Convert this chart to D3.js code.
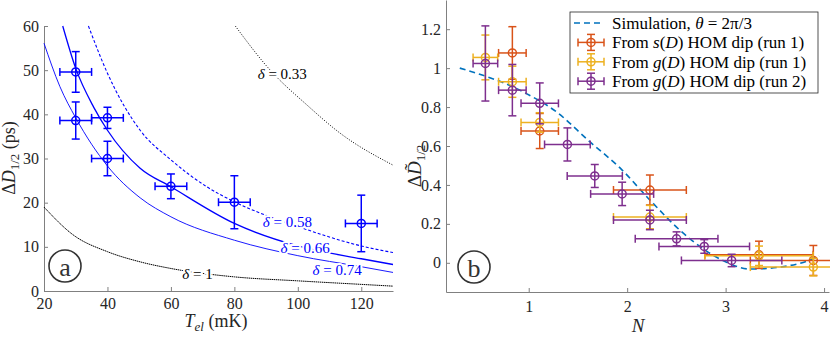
<!DOCTYPE html>
<html>
<head>
<meta charset="utf-8">
<script src="https://cdn.jsdelivr.net/npm/d3@7"></script>
<style>
  body { margin: 0; background: #fff; }
</style>
</head>
<body>
<svg id="chart" width="830" height="337"></svg>
<script>
// ---- panel (a): contour curves of delta
const tempDelta033 = [80.3, 91.3, 102.9, 113.4, 130];
const widthDelta033 = [60, 50, 42.1, 35.7, 28.5];
const tempDelta058 = [34, 40, 50.3, 60, 71.3, 80, 100, 120, 130];
const widthDelta058 = [60, 49.3, 36.4, 29.7, 23.6, 20.2, 14.6, 10.2, 8.7];
const tempDelta066 = [25.9, 30, 35.6, 40, 50.3, 60, 80, 100, 120, 130];
const widthDelta066 = [60, 50.4, 41.7, 36.4, 27.8, 23.6, 15.3, 10.2, 7.3, 6.0];
const tempDelta074 = [20, 25, 30, 40, 50.3, 60, 80, 100, 120, 130];
const widthDelta074 = [56.1, 46.3, 39.2, 28.3, 21.1, 16.8, 11.5, 8.0, 5.5, 4.2];
const tempDelta1 = [20, 29.2, 40, 50.3, 60, 80, 100, 120, 130];
const widthDelta1 = [19, 12.7, 8.9, 6.6, 5.1, 3.2, 2.3, 1.5, 1.1];

// measured points, panel (a)
const measTemp = [30, 30, 40, 40, 60, 80, 120];
const measWidth = [49.6, 38.6, 39.2, 30.0, 23.7, 20.1, 15.3];
const measWidthErr = [4.6, 4.2, 2.4, 3.9, 2.8, 6.0, 6.4];
const measTempErr = [5, 5, 5, 5, 5, 5, 5];

const ticksTemp = [20, 40, 60, 80, 100, 120];
const ticksWidth = [0, 10, 20, 30, 40, 50, 60];

// ---- panel (b)
const simN = [0.3, 0.94, 1.28, 1.62, 1.93, 2.23, 2.57, 2.96, 3.25, 3.55, 3.86, 3.95];
const simWidth = [1.0, 0.879, 0.776, 0.622, 0.486, 0.323, 0.152, 0.015, -0.032, -0.022, 0.015, 0.035];

const sRun1N = [0.834, 1.112, 2.231, 3.339, 3.891];
const sRun1W = [1.078, 0.677, 0.374, 0.041, 0.012];
const sRun1WErr = [0.135, 0.09, 0.077, 0.07, 0.077];
const sRun1NErr = [0.14, 0.19, 0.37, 0.55, 0.64];

const gRun1N = [0.56, 0.834, 1.112, 2.231, 3.339, 3.891];
const gRun1W = [1.055, 0.93, 0.721, 0.235, 0.036, -0.022];
const gRun1WErr = [0.115, 0.08, 0.05, 0.06, 0.05, 0.045];
const gRun1NErr = [0.125, 0.14, 0.19, 0.37, 0.55, 0.64];

const gRun2N = [0.56, 0.834, 1.112, 1.393, 1.671, 1.949, 2.231, 2.502, 2.783, 3.061];
const gRun2W = [1.024, 0.887, 0.819, 0.608, 0.446, 0.354, 0.22, 0.123, 0.084, 0.012];
const gRun2WErr = [0.193, 0.132, 0.105, 0.085, 0.059, 0.06, 0.05, 0.036, 0.035, 0.032];
const gRun2NErr = [0.125, 0.14, 0.19, 0.232, 0.28, 0.32, 0.37, 0.42, 0.46, 0.51];

const ticksN = [1, 2, 3, 4];
const ticksNormWidth = [0, 0.2, 0.4, 0.6, 0.8, 1, 1.2];

const FONT = '"Liberation Serif", "DejaVu Serif", "Noto Serif", "Times New Roman", serif';
const svg = d3.select('#chart').style('font-family', FONT);
const axisGray = '#808080';
const textDark = '#262626';

// scales
const xA = d3.scaleLinear().domain([20, 130]).range([44, 393]);
const yA = d3.scaleLinear().domain([0, 60]).range([291, 26]);
const xB = d3.scaleLinear().domain([0.16, 4.05]).range([446, 829]);
const yB = d3.scaleLinear().domain([-0.15, 1.35]).range([292, 0]);

function styleAxis(g) {
  g.attr('font-family', null).style('font-family', FONT);
  g.select('.domain').attr('stroke', axisGray).attr('stroke-width', 1);
  g.selectAll('.tick line').attr('stroke', axisGray);
  g.selectAll('.tick text').attr('fill', textDark).attr('font-size', 16)
    .style('font-family', FONT);
}

// ---------- panel (a) ----------
svg.append('g')
  .attr('transform', `translate(0,${yA.range()[0]})`)
  .call(d3.axisBottom(xA).tickValues(ticksTemp).tickSizeInner(-4).tickSizeOuter(0).tickPadding(7))
  .call(styleAxis);
svg.append('g')
  .attr('transform', `translate(${xA.range()[0]},0)`)
  .call(d3.axisLeft(yA).tickValues(ticksWidth).tickSizeInner(-4).tickSizeOuter(0).tickPadding(5))
  .call(styleAxis);

const lineA = d3.line().x(d => xA(d[0])).y(d => yA(d[1])).curve(d3.curveMonotoneX);
const contours = [
  { t: tempDelta033, w: widthDelta033, color: '#000', width: 1, dash: '1,1.6' },
  { t: tempDelta058, w: widthDelta058, color: '#0000ff', width: 1.1, dash: '3,2' },
  { t: tempDelta066, w: widthDelta066, color: '#0000ff', width: 1.3, dash: null },
  { t: tempDelta074, w: widthDelta074, color: '#0000ff', width: 0.9, dash: null },
  { t: tempDelta1, w: widthDelta1, color: '#000', width: 1, dash: '1.5,0.6' }
];
contours.forEach(c => {
  svg.append('path')
    .attr('d', lineA(c.t.map((t, i) => [t, c.w[i]])))
    .attr('fill', 'none')
    .attr('stroke', c.color)
    .attr('stroke-width', c.width)
    .attr('stroke-dasharray', c.dash);
});

// contour labels (anchor in data coordinates)
const contourLabels = [
  { val: '0.33', t: 95.1, w: 49.1, color: '#000' },
  { val: '0.58', t: 96.7, w: 15.6, color: '#0000ff' },
  { val: '0.66', t: 102.3, w: 9.8, color: '#0000ff' },
  { val: '0.74', t: 112.4, w: 4.75, color: '#0000ff' },
  { val: '1', t: 68.4, w: 3.85, color: '#000' }
];
contourLabels.forEach(l => {
  const txt = svg.append('text')
    .attr('x', xA(l.t)).attr('y', yA(l.w))
    .attr('text-anchor', 'middle').attr('dominant-baseline', 'central')
    .attr('font-size', 15).attr('fill', l.color)
    .attr('stroke', '#fff').attr('stroke-width', 4).attr('paint-order', 'stroke');
  txt.append('tspan').attr('font-style', 'italic').text('δ');
  txt.append('tspan').text(' = ' + l.val);
});

// error bars helper
function errorBars(xs, ys, xe, ye, xScale, yScale, color, r) {
  const g = svg.append('g').attr('stroke', color).attr('stroke-width', 1.5).attr('fill', 'none');
  const cap = 4;
  xs.forEach((x, i) => {
    const cx = xScale(x), cy = yScale(ys[i]);
    const x0 = xScale(x - xe[i]), x1 = Math.min(xScale(x + xe[i]), 900);
    const y0 = yScale(ys[i] - ye[i]), y1 = yScale(ys[i] + ye[i]);
    g.append('line').attr('x1', cx).attr('x2', cx).attr('y1', y0).attr('y2', y1);
    g.append('line').attr('x1', cx - cap).attr('x2', cx + cap).attr('y1', y0).attr('y2', y0);
    g.append('line').attr('x1', cx - cap).attr('x2', cx + cap).attr('y1', y1).attr('y2', y1);
    g.append('line').attr('x1', x0).attr('x2', x1).attr('y1', cy).attr('y2', cy);
    g.append('line').attr('x1', x0).attr('x2', x0).attr('y1', cy - cap).attr('y2', cy + cap);
    g.append('line').attr('x1', x1).attr('x2', x1).attr('y1', cy - cap).attr('y2', cy + cap);
    g.append('circle').attr('cx', cx).attr('cy', cy).attr('r', r);
  });
}
errorBars(measTemp, measWidth, measTempErr, measWidthErr, xA, yA, '#0000ff', 4);

// axis labels (a)
const xLabA = svg.append('text').attr('x', 216).attr('y', 327).attr('text-anchor', 'middle')
  .attr('font-size', 18).attr('fill', textDark);
xLabA.append('tspan').attr('font-style', 'italic').text('T');
xLabA.append('tspan').attr('font-style', 'italic').attr('font-size', 13).attr('dy', 4).text('el');
xLabA.append('tspan').attr('dy', -4).text(' (mK)');

const yLabA = svg.append('text').attr('transform', 'translate(15,158) rotate(-90)')
  .attr('text-anchor', 'middle').attr('font-size', 18).attr('fill', textDark);
yLabA.append('tspan').text('Δ');
yLabA.append('tspan').attr('font-style', 'italic').text('D');
yLabA.append('tspan').attr('font-size', 13).attr('dy', 4).text('1/2');
yLabA.append('tspan').attr('dy', -4).text(' (ps)');

// ---------- panel (b) ----------
svg.append('g')
  .attr('transform', `translate(0,${yB.range()[0]})`)
  .call(d3.axisBottom(xB).tickValues(ticksN).tickFormat(d3.format('d'))
    .tickSizeInner(-4).tickSizeOuter(0).tickPadding(9))
  .call(styleAxis);
svg.append('g')
  .attr('transform', `translate(${xB.range()[0]},0)`)
  .call(d3.axisLeft(yB).tickValues(ticksNormWidth).tickFormat(d => String(+d.toFixed(1)))
    .tickSizeInner(-4).tickSizeOuter(0).tickPadding(5))
  .call(styleAxis);

const lineB = d3.line().x(d => xB(d[0])).y(d => yB(d[1])).curve(d3.curveMonotoneX);
svg.append('path')
  .attr('d', lineB(simN.map((n, i) => [n, simWidth[i]])))
  .attr('fill', 'none').attr('stroke', '#0072BD').attr('stroke-width', 1.6)
  .attr('stroke-dasharray', '6,4');

errorBars(sRun1N, sRun1W, sRun1NErr, sRun1WErr, xB, yB, '#D95319', 4);
errorBars(gRun1N, gRun1W, gRun1NErr, gRun1WErr, xB, yB, '#EDB120', 4);
errorBars(gRun2N, gRun2W, gRun2NErr, gRun2WErr, xB, yB, '#7E2F8E', 4);

// axis labels (b)
svg.append('text').attr('x', 638).attr('y', 332).attr('text-anchor', 'middle')
  .attr('font-size', 19).attr('font-style', 'italic').attr('fill', textDark).text('N');

const yLabB = svg.append('text').attr('transform', 'translate(421,166) rotate(-90)')
  .attr('text-anchor', 'middle').attr('font-size', 19).attr('fill', textDark);
yLabB.append('tspan').text('Δ');
yLabB.append('tspan').attr('font-style', 'italic').text('D\u0303');
yLabB.append('tspan').attr('font-size', 13).attr('dy', 4).text('1/2');

// legend
const legendRows = [
  { kind: 'line', color: '#0072BD', parts: [['Simulation, ', false], ['θ', true], [' = 2π/3', false]] },
  { kind: 'err', color: '#D95319', parts: [['From ', false], ['s', true], ['(', false], ['D', true], [') HOM dip (run 1)', false]] },
  { kind: 'err', color: '#EDB120', parts: [['From ', false], ['g', true], ['(', false], ['D', true], [') HOM dip (run 1)', false]] },
  { kind: 'err', color: '#7E2F8E', parts: [['From ', false], ['g', true], ['(', false], ['D', true], [') HOM dip (run 2)', false]] }
];
const legend = svg.append('g').attr('transform', 'translate(570,12)');
legend.append('rect').attr('width', 248).attr('height', 81)
  .attr('fill', '#fff').attr('stroke', '#262626').attr('stroke-width', 0.8);
legendRows.forEach((row, i) => {
  const cy = 11 + i * 19.4;
  if (row.kind === 'line') {
    legend.append('line').attr('x1', 4).attr('x2', 32).attr('y1', cy).attr('y2', cy)
      .attr('stroke', row.color).attr('stroke-width', 1.6).attr('stroke-dasharray', '6,4');
  } else {
    const g = legend.append('g').attr('stroke', row.color).attr('stroke-width', 1.5).attr('fill', 'none');
    g.append('line').attr('x1', 8).attr('x2', 34).attr('y1', cy).attr('y2', cy);
    g.append('line').attr('x1', 8).attr('x2', 8).attr('y1', cy - 4).attr('y2', cy + 4);
    g.append('line').attr('x1', 34).attr('x2', 34).attr('y1', cy - 4).attr('y2', cy + 4);
    g.append('line').attr('x1', 21).attr('x2', 21).attr('y1', cy - 8).attr('y2', cy + 8);
    g.append('line').attr('x1', 17).attr('x2', 25).attr('y1', cy - 8).attr('y2', cy - 8);
    g.append('line').attr('x1', 17).attr('x2', 25).attr('y1', cy + 8).attr('y2', cy + 8);
    g.append('circle').attr('cx', 21).attr('cy', cy).attr('r', 4);
  }
  const t = legend.append('text').attr('x', 42).attr('y', cy).attr('dominant-baseline', 'central')
    .attr('font-size', 17).attr('fill', '#000');
  row.parts.forEach(p => t.append('tspan').attr('font-style', p[1] ? 'italic' : null).text(p[0]));
});

// panel tags
[['a', 65, 266], ['b', 474, 267]].forEach(([lab, cx, cy]) => {
  svg.append('circle').attr('cx', cx).attr('cy', cy).attr('r', 16)
    .attr('fill', 'none').attr('stroke', '#333').attr('stroke-width', 1.6);
  svg.append('text').attr('x', cx).attr('y', cy + 1).attr('text-anchor', 'middle')
    .attr('dominant-baseline', 'central').attr('font-size', 26).attr('fill', '#333').text(lab);
});
</script>
</body>
</html>
